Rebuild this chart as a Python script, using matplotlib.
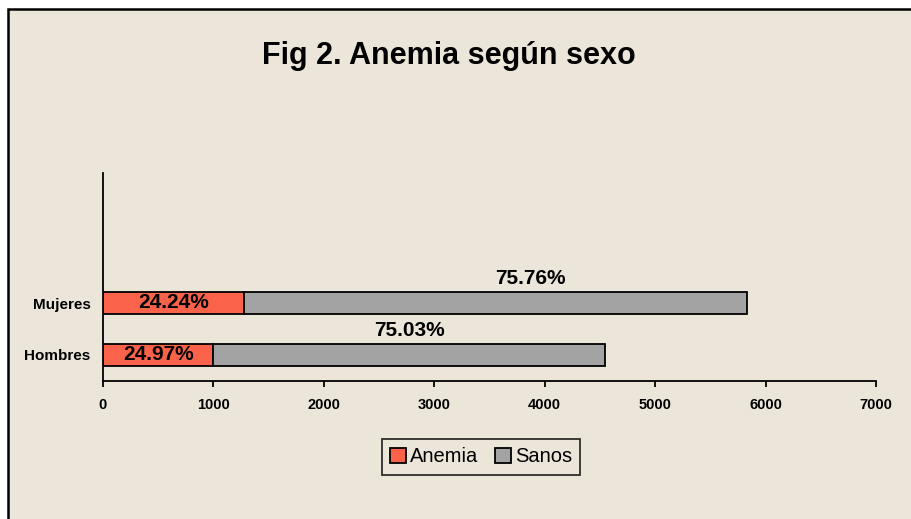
import matplotlib.pyplot as plt
from matplotlib.patches import Rectangle
import numpy as np

plt.rcParams['font.family'] = ['Liberation Sans', 'DejaVu Sans']

categories = ['Hombres', 'Mujeres']
anemia = [1000, 1277]
sanos = [3549, 4552]
anemia_labels = ['24.97%', '24.24%']
sanos_labels = ['75.03%', '75.76%']
xticks = [0, 1000, 2000, 3000, 4000, 5000, 6000, 7000]

bg = '#ECE6DA'
red = '#FA6249'
grey = '#A3A3A3'

fig = plt.figure(figsize=(9.12, 5.19), dpi=100, facecolor='white')

# background axes holding the outer chart frame (runs off right and bottom)
bax = fig.add_axes([0, 0, 1, 1], zorder=-1)
bax.set_xlim(0, 912)
bax.set_ylim(519, 0)
bax.axis('off')
bax.add_patch(Rectangle((8, 9), 1000, 600, facecolor=bg, edgecolor='black', linewidth=1.8))

ax = fig.add_axes([103 / 912, 1 - 381 / 519, 773 / 912, 208 / 519])
ax.set_facecolor('none')

y = np.arange(len(categories))
h = 0.43
ax.barh(y, anemia, height=h, color=red, edgecolor='black', linewidth=1.3, label='Anemia')
ax.barh(y, sanos, left=anemia, height=h, color=grey, edgecolor='black', linewidth=1.3, label='Sanos')

for i in range(len(categories)):
    ax.text(anemia[i] / 2, y[i], anemia_labels[i], ha='center', va='center',
            fontsize=15, fontweight='bold')
# Excel placed the Sanos labels above the bars
shift = [0, 320]
for i in range(len(categories)):
    ax.text(anemia[i] + sanos[i] / 2 + shift[i], y[i] + 0.47, sanos_labels[i],
            ha='center', va='center', fontsize=15, fontweight='bold')

ax.set_xlim(0, 7000)
ax.set_ylim(-0.5, 3.5)
ax.set_xticks(xticks)
ax.set_xticklabels([str(t) for t in xticks], fontsize=10.5, fontweight='bold')
ax.set_yticks(y)
ax.set_yticklabels(categories, fontsize=11, fontweight='bold')
ax.tick_params(axis='x', direction='out', length=4, width=1.3, pad=8)
ax.tick_params(axis='y', length=0, pad=9)
for s in ['top', 'right']:
    ax.spines[s].set_visible(False)
for s in ['left', 'bottom']:
    ax.spines[s].set_linewidth(1.3)

fig.text(449 / 912, 1 - 56 / 519, 'Fig 2. Anemia según sexo', ha='center', va='center',
         fontsize=22, fontweight='bold')

leg = fig.legend(loc='center', bbox_to_anchor=(481 / 912, 1 - 457 / 519), ncol=2,
                 fontsize=14.5, frameon=True, fancybox=False, edgecolor='black',
                 handlelength=0.8, handleheight=0.8, handletextpad=0.2,
                 columnspacing=0.8, borderpad=0.4)
leg.get_frame().set_facecolor(bg)
leg.get_frame().set_linewidth(1.3)

fig.savefig('out.png', dpi=100, facecolor='white')
